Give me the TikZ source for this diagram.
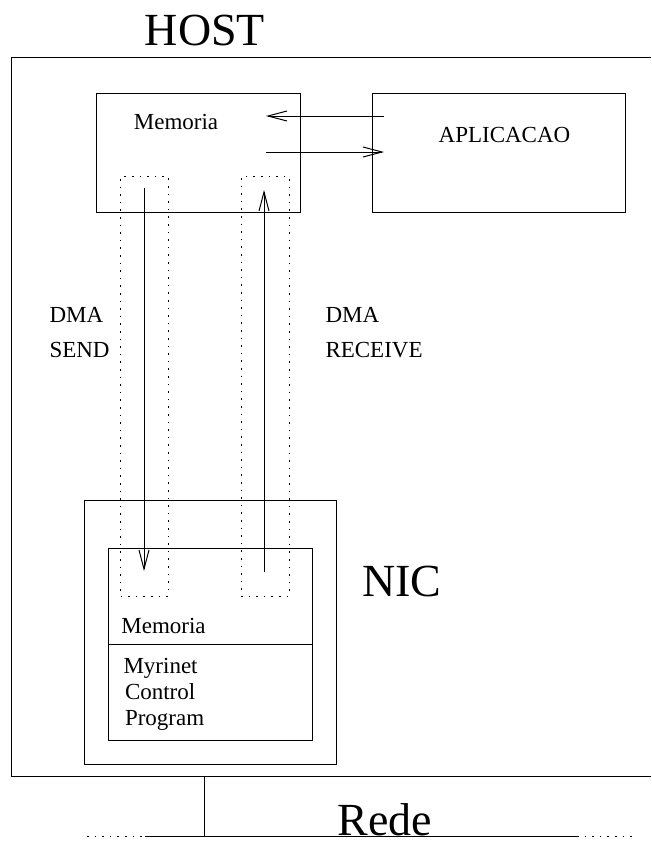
\documentclass[tikz,border=0pt]{standalone}
\usepackage{fontspec}
\setmainfont{Liberation Serif}
\usetikzlibrary{arrows.meta}
\begin{document}
\begin{tikzpicture}[x=1pt,y=-1pt,line width=1pt,
  box/.style={draw,line width=1pt,inner sep=0pt},
  dotbox/.style={draw,line width=1pt,dash pattern=on 1.6pt off 6pt},
  small/.style={font=\fontsize{23}{26}\selectfont,inner sep=0pt},
  big/.style={font=\fontsize{46}{50}\selectfont,inner sep=0pt},
  arr/.style={-{Straight Barb[length=19pt,width=10pt,line width=1pt]}}]
\useasboundingbox (0,0) rectangle (651,841);
% host outline (runs off the right edge)
\draw (651,57) -- (11,57) -- (11,776) -- (651,776);
\node[big,anchor=base] (host) at (205,45) {HOST};
% host memory and application
\node[box,minimum width=204pt,minimum height=119pt] (memh) at (198,152.5) {};
\node[small,anchor=base] (memhl) at (176,129) {Memoria};
\node[box,minimum width=253pt,minimum height=119pt] (app) at (498.5,152.5) {};
\node[small,anchor=base] (appl) at (504.5,142) {APLICACAO};
\coordinate (a1) at (384,116); \coordinate (a2) at (266,116);
\coordinate (b1) at (266,152); \coordinate (b2) at (384,152);
\draw[arr] (a1) -- (a2);
\draw[arr] (b1) -- (b2);
% DMA channels
\node[dotbox,minimum width=47.5pt,minimum height=419.5pt] (dsend) at (144.4,386.4) {};
\node[dotbox,minimum width=48pt,minimum height=419.5pt] (drecv) at (265,386.4) {};
\node[small,anchor=base west] (dma1) at (49,322) {DMA};
\node[small,anchor=base west] (send) at (49,357) {SEND};
\node[small,anchor=base west] (dma2) at (325,322) {DMA};
\node[small,anchor=base west] (recv) at (325,357) {RECEIVE};
% NIC
\node[box,minimum width=252pt,minimum height=263.5pt] (nic) at (210,632.4) {};
\node[box,minimum width=204pt,minimum height=192pt] (nicin) at (210,644) {};
\coordinate (dl) at (108,644); \coordinate (dr) at (312,644);
\draw (dl) -- (dr);
\node[big,anchor=base] (nicl) at (402,596.5) {NIC};
\node[small,anchor=base] (memn) at (163.5,633) {Memoria};
\node[small,anchor=base west] (my1) at (123,673) {Myrinet};
\node[small,anchor=base west] (my2) at (124.5,699) {Control};
\node[small,anchor=base west] (my3) at (124.5,725) {Program};
\coordinate (s1) at (144,188); \coordinate (s2) at (144,571);
\coordinate (r1) at (264,572); \coordinate (r2) at (264,190);
\draw[arr] (s1) -- (s2);
\draw[arr] (r1) -- (r2);
% network
\coordinate (t1) at (204,776); \coordinate (t2) at (204,836);
\draw (t1) -- (t2);
\coordinate (n0) at (87,836); \coordinate (n1) at (145,836);
\coordinate (n2) at (577,836); \coordinate (n3) at (635,836);
\draw[dotbox] (n0) -- (n1);
\draw (n1) -- (n2);
\draw[dotbox] (n2) -- (n3);
\node[big,anchor=base] (rede) at (385,835.5) {Rede};
\end{tikzpicture}
\end{document}
